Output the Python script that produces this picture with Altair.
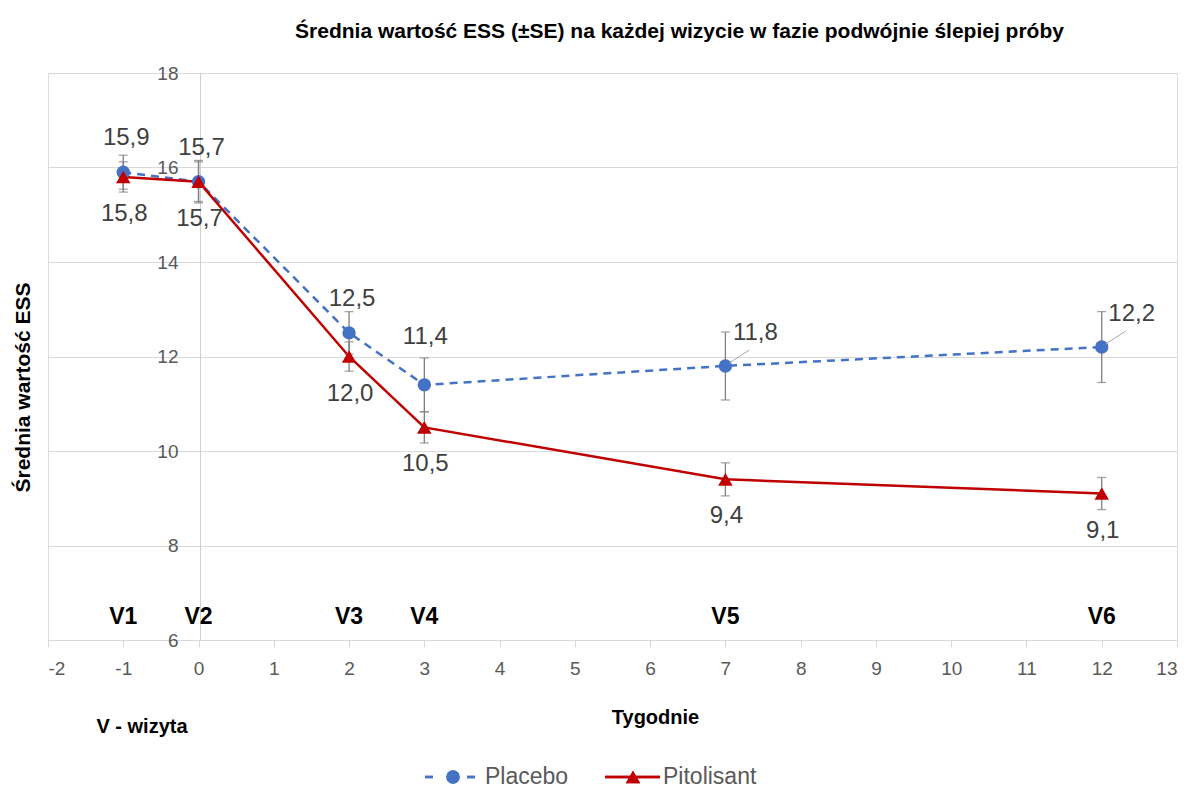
import altair as alt
import pandas as pd

# ---- data ----
weeks = [-1, 0, 2, 3, 7, 12]
visits = ["V1", "V2", "V3", "V4", "V5", "V6"]
placebo = [15.9, 15.7, 12.5, 11.4, 11.8, 12.2]
placebo_se = [0.36, 0.45, 0.45, 0.57, 0.72, 0.75]
pitolisant = [15.8, 15.7, 12.0, 10.5, 9.4, 9.1]
pitolisant_se = [0.32, 0.42, 0.31, 0.33, 0.35, 0.34]
y_ticks = [6, 8, 10, 12, 14, 16, 18]
x_ticks = list(range(-2, 14))

rows = []
for s, vals, ses in [("Placebo", placebo, placebo_se), ("Pitolisant", pitolisant, pitolisant_se)]:
    for w, v, val, se in zip(weeks, visits, vals, ses):
        rows.append({"series": s, "week": w, "visit": v, "value": val,
                     "lo": round(val - se, 2), "hi": round(val + se, 2),
                     "label": f"{val:.1f}".replace(".", ",")})
df = pd.DataFrame(rows)
vdf = pd.DataFrame({"week": weeks, "visit": visits})

BLUE = "#4472C4"
RED = "#C00000"
GRAY = "#595959"
ERR = "#7F7F7F"
NUMFONT = "Liberation Sans"
BOLDFONT = "Liberation Sans"

W, H = 1129, 567

xs = alt.Scale(domain=[-2, 13], nice=False, zero=False)
ys = alt.Scale(domain=[6, 18], nice=False, zero=False)

xaxis = alt.Axis(values=x_ticks, grid=False, domainColor="#D9D9D9", tickColor="#D9D9D9",
                 tickSize=7, labelPadding=12, labelColor=GRAY, labelFontSize=19,
                 labelFont=NUMFONT, labelExpr="'' + datum.value",
                 title="Tygodnie", titleFont=BOLDFONT, titleFontSize=20,
                 titleFontWeight="bold", titleColor="black", titleX=607, titleY=77,
                 titleAlign="center", titleBaseline="middle")
yaxis = alt.Axis(values=y_ticks, grid=True, gridColor="#D9D9D9", domainColor="#D0D0D0",
                 offset=-152, ticks=False, labelPadding=22, labelColor=GRAY, labelFontSize=19,
                 labelFont=NUMFONT, labelExpr="'' + datum.value",
                 title="Średnia wartość ESS", titleFont=BOLDFONT,
                 titleFontSize=21, titleFontWeight="bold", titleColor="black",
                 titleX=-177, titleY=314, titleAngle=-90, titleAlign="center",
                 titleBaseline="middle")

base = alt.Chart(df)
X = alt.X("week:Q", scale=xs, axis=xaxis)
Y = alt.Y("value:Q", scale=ys, axis=yaxis)
Xn = alt.X("week:Q", scale=xs)
Yn = alt.Y("value:Q", scale=ys)

pla = base.transform_filter(alt.datum.series == "Placebo")
pit = base.transform_filter(alt.datum.series == "Pitolisant")

line_pla = pla.mark_line(color=BLUE, strokeWidth=2.5, strokeDash=[8, 6]).encode(x=X, y=Y)
line_pit = pit.mark_line(color=RED, strokeWidth=2.5).encode(x=Xn, y=Yn)

err = base.mark_rule(color=ERR, strokeWidth=1.3).encode(
    x=Xn, y=alt.Y("lo:Q", scale=ys), y2="hi:Q")
cap_lo = base.mark_tick(color=ERR, thickness=1.3, size=9, orient="horizontal").encode(
    x=Xn, y=alt.Y("lo:Q", scale=ys))
cap_hi = base.mark_tick(color=ERR, thickness=1.3, size=9, orient="horizontal").encode(
    x=Xn, y=alt.Y("hi:Q", scale=ys))

pts_pla = pla.mark_point(shape="circle", filled=True, opacity=1, size=180, color=BLUE).encode(x=Xn, y=Yn)
pts_pit = pit.mark_point(shape="triangle-up", filled=True, opacity=1, size=210, color=RED).encode(x=Xn, y=Yn)

lab_kw = dict(font=NUMFONT, fontSize=24, color="#404040", baseline="middle", align="center")
lab_pla_a = pla.transform_filter(alt.datum.week <= 2).mark_text(dy=-34, dx=3, **lab_kw).encode(
    x=Xn, y=Yn, text="label:N")
lab_pla_b = pla.transform_filter(alt.datum.week == 3).mark_text(dy=-48, dx=1, **lab_kw).encode(
    x=Xn, y=Yn, text="label:N")
lab_pla_c = pla.transform_filter(alt.datum.week >= 7).mark_text(dy=-33, dx=30, **lab_kw).encode(
    x=Xn, y=Yn, text="label:N")
lead = pla.transform_filter(alt.datum.week >= 7).mark_rule(
    color="#A6A6A6", strokeWidth=1, xOffset=4, yOffset=-3, x2Offset=24, y2Offset=-16).encode(
    x=Xn, x2="week:Q", y=Yn, y2="value:Q")
lab_pit = pit.mark_text(dy=37, dx=1, **lab_kw).encode(x=Xn, y=Yn, text="label:N")

vis = alt.Chart(vdf).mark_text(font=BOLDFONT, fontSize=23, fontWeight="bold", color="black",
                               baseline="middle").encode(
    x=alt.X("week:Q", scale=xs), y=alt.value(544), text="visit:N")

note = alt.Chart(pd.DataFrame({"t": ["V - wizyta"]})).mark_text(
    font=BOLDFONT, fontSize=20, fontWeight="bold", color="black", baseline="middle").encode(
    x=alt.value(94), y=alt.value(654), text="t:N")

# ---- manual legend ----
LY = 704
leg_df = pd.DataFrame({"name": ["Placebo", "Pitolisant"]})
lg = alt.Chart(leg_df)
leg = [
    lg.mark_rule(color=BLUE, strokeWidth=2.5).encode(x=alt.value(377), x2=alt.value(385), y=alt.value(LY)),
    lg.mark_rule(color=BLUE, strokeWidth=2.5).encode(x=alt.value(419), x2=alt.value(427), y=alt.value(LY)),
    lg.mark_point(shape="circle", filled=True, opacity=1, size=180, color=BLUE).encode(
        x=alt.value(405), y=alt.value(LY)),
    lg.transform_filter(alt.datum.name == "Placebo").mark_text(
        font=NUMFONT, fontSize=23, color=GRAY, align="left", baseline="middle").encode(
        x=alt.value(437), y=alt.value(LY), text="name:N"),
    lg.mark_rule(color=RED, strokeWidth=2.5).encode(x=alt.value(557), x2=alt.value(612), y=alt.value(LY)),
    lg.mark_point(shape="triangle-up", filled=True, opacity=1, size=210, color=RED).encode(
        x=alt.value(585), y=alt.value(LY)),
    lg.transform_filter(alt.datum.name == "Pitolisant").mark_text(
        font=NUMFONT, fontSize=23, color=GRAY, align="left", baseline="middle").encode(
        x=alt.value(615), y=alt.value(LY), text="name:N"),
]

chart = alt.layer(
    line_pla, line_pit, err, cap_lo, cap_hi, pts_pla, pts_pit,
    lead, lab_pla_a, lab_pla_b, lab_pla_c, lab_pit, vis, note, *leg
).properties(
    width=W, height=H,
    title=alt.TitleParams(
        "Średnia wartość ESS (±SE) na każdej wizycie w fazie podwójnie ślepiej próby",
        font=BOLDFONT, fontSize=21, fontWeight="bold", color="black",
        anchor="middle", dx=67, offset=22),
    autosize=alt.AutoSizeParams(type="none"),
    padding={"left": 40, "top": 65, "right": 5, "bottom": 150},
).configure_view(stroke=None).configure(background="white")

chart.save("out.html", embed_options={"renderer": "svg", "actions": False})
